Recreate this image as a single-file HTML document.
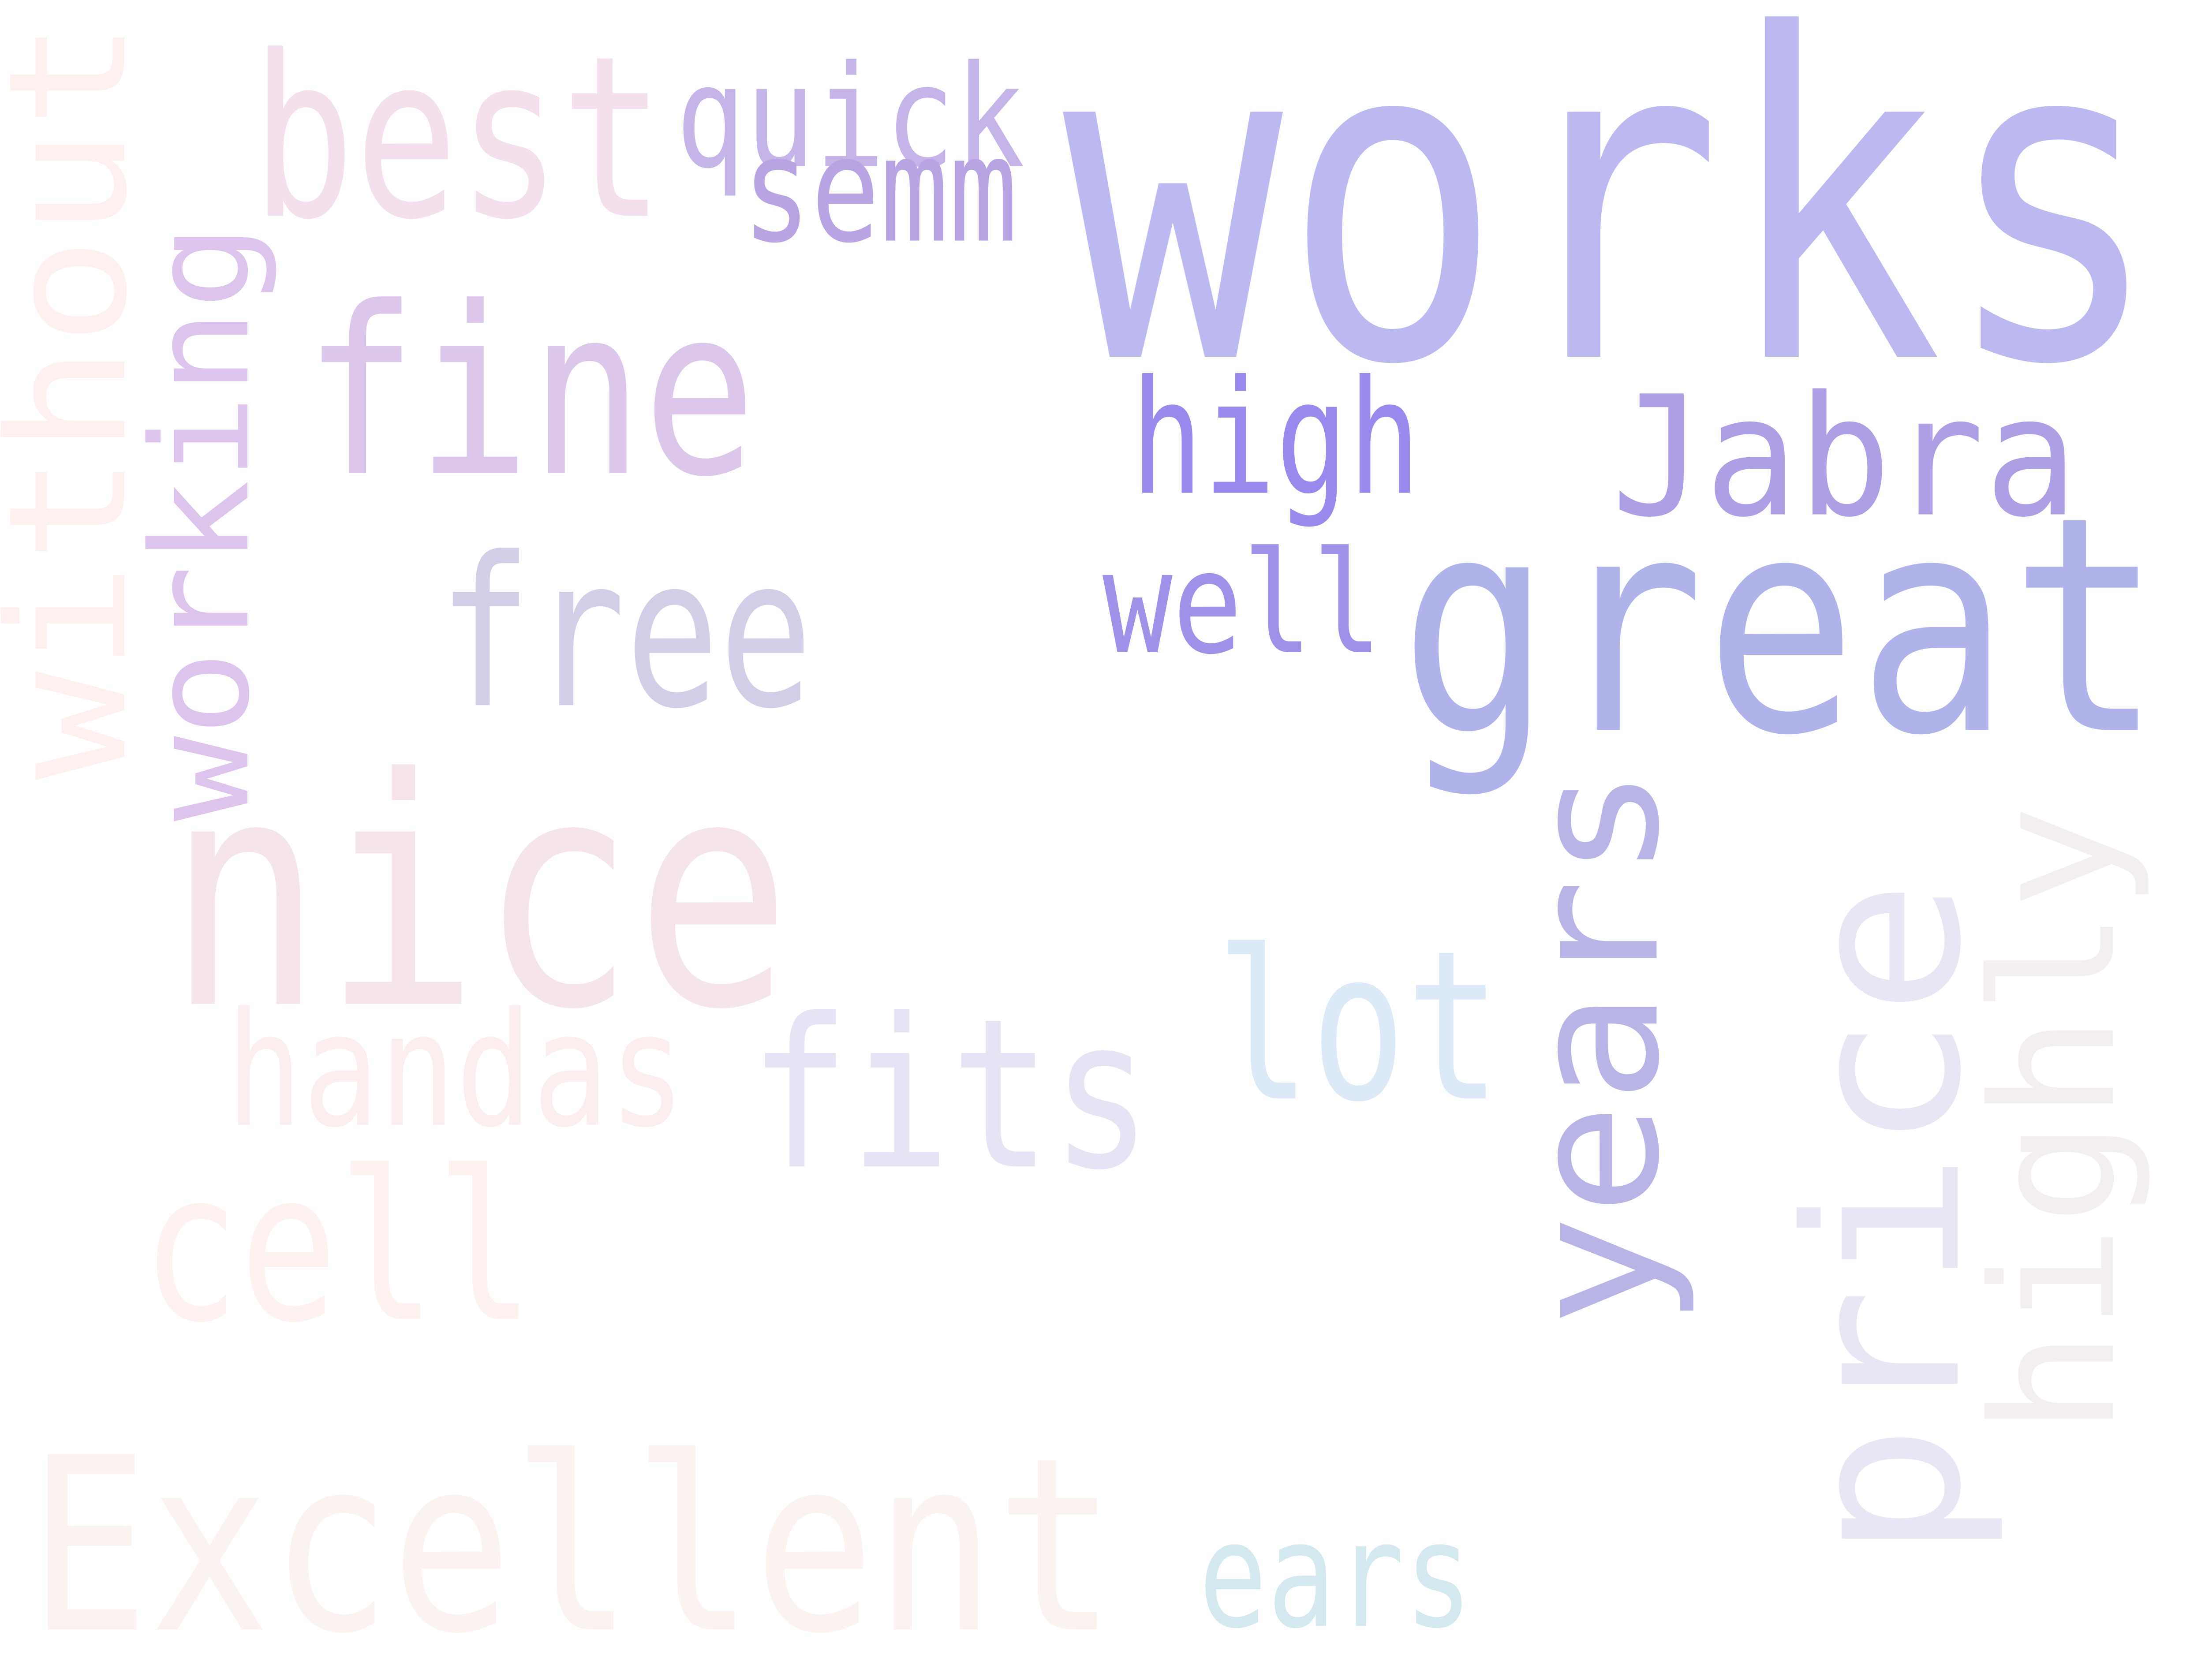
<!DOCTYPE html>
<html>
<head>
<meta charset="utf-8">
<style>
html,body{margin:0;padding:0;background:#fff;width:100%;height:100%;overflow:hidden;}
svg{display:block;position:fixed;left:0;top:0;width:100vw;height:100vh;}
text{font-family:"DejaVu Sans Mono","Liberation Mono",monospace;}
</style>
</head>
<body>
<svg id="cloud" viewBox="0 0 1560 1012.5" preserveAspectRatio="none" xmlns="http://www.w3.org/2000/svg">
<rect x="0" y="0" width="1560" height="1012.5" fill="#ffffff"/>
</svg>
<script>
const words = ["works","great","nice","Excellent","fine","best","free","fits","lot","cell","handas","high","Jabra","well","quick","semm","ears","without","working","years","price","highly"];
const sizes = [270,180,190,145,140,135,125,125,125,125,95,95,100,85,85,88,88,115,95,125,150,120];
const colors = ["#bcb8f0","#b0b2ea","#f5e4ec","#fbf3f0","#dcc6ea","#f3e0ec","#d4cde8","#e4e4f4","#dceaf8","#fdf2f0","#fceeee","#9a88ec","#ae9fe4","#9f90e8","#c4b4e8","#b8a4e2","#d4e8f0","#fdf0ee","#dcc4ec","#b8b4e6","#e8e6f4","#f3eef2"];
// layout in reference units: [x, baseline y, length, vertical]
const layout = [
 [752,215,778,0],[990,440,540,0],[118,605,442,0],[20,982,770,0],[215,285,320,0],
 [178,130,292,0],[310,425,265,0],[530,703,285,0],[860,662,202,0],[100,795,278,0],
 [160,678,325,0],[800,297,205,0],[1140,310,330,0],[780,393,198,0],[478,100,247,0],
 [525,145,195,0],[848,980,194,0],[88,470,458,1],[175,495,360,1],[1172,800,338,1],
 [1385,940,410,1],[1495,865,380,1]
];
const svg = document.getElementById('cloud');
words.forEach((w,i)=>{
  const t = document.createElementNS('http://www.w3.org/2000/svg','text');
  const [x,y,len,v] = layout[i];
  t.textContent = w;
  t.setAttribute('font-size', sizes[i]);
  t.setAttribute('fill', colors[i]);
  t.setAttribute('textLength', len);
  t.setAttribute('lengthAdjust','spacingAndGlyphs');
  if (v) { t.setAttribute('transform', `translate(${x},${y}) rotate(-90)`); }
  else { t.setAttribute('x', x); t.setAttribute('y', y); }
  
  
  svg.appendChild(t);
});
</script>
</body>
</html>
